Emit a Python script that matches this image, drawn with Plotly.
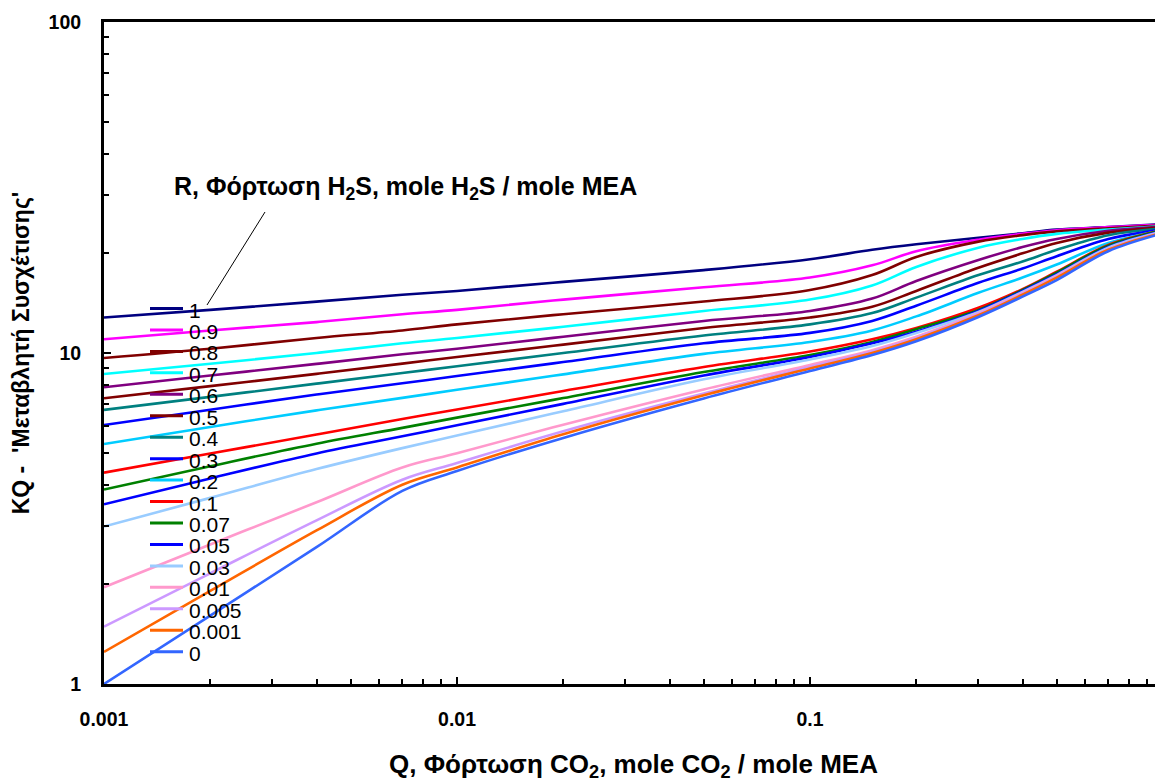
import plotly.graph_objects as go

# ---------------- data ----------------
q_co2 = [0.001, 0.002, 0.004, 0.007, 0.01, 0.02, 0.05, 0.1, 0.15, 0.2, 0.3, 0.4, 0.5, 0.7, 1.0]

r_labels = ["1", "0.9", "0.8", "0.7", "0.6", "0.5", "0.4", "0.3", "0.2",
            "0.1", "0.07", "0.05", "0.03", "0.01", "0.005", "0.001", "0"]

k_r1    = [12.8, 13.5, 14.3, 15.0, 15.4, 16.4, 17.8, 19.2, 20.5, 21.3, 22.3, 23.0, 23.6, 24.0, 24.5]
k_r09   = [11.0, 11.7, 12.4, 13.1, 13.5, 14.5, 15.8, 16.9, 18.4, 20.3, 22.0, 22.9, 23.5, 24.0, 24.4]
k_r08   = [9.66, 10.3, 11.1, 11.7, 12.2, 13.1, 14.3, 15.5, 17.2, 19.5, 21.7, 22.7, 23.3, 23.8, 24.3]
k_r07   = [8.64, 9.28, 10.0, 10.7, 11.1, 12.0, 13.4, 14.5, 16.0, 18.2, 20.8, 22.1, 22.9, 23.6, 24.2]
k_r06   = [7.88, 8.55, 9.27, 9.91, 10.3, 11.2, 12.5, 13.4, 14.6, 16.5, 19.1, 20.9, 22.1, 23.4, 24.1]
k_r05   = [7.30, 7.94, 8.65, 9.29, 9.72, 10.6, 11.9, 12.8, 13.8, 15.4, 18.1, 20.0, 21.5, 23.1, 24.0]
k_r04   = [6.73, 7.37, 8.08, 8.70, 9.12, 10.0, 11.3, 12.2, 13.2, 14.7, 17.2, 18.9, 20.5, 22.7, 23.8]
k_r03   = [6.06, 6.74, 7.49, 8.10, 8.52, 9.39, 10.7, 11.5, 12.5, 13.9, 16.3, 18.0, 19.6, 22.1, 23.6]
k_r02   = [5.31, 5.98, 6.71, 7.32, 7.74, 8.62, 9.94, 10.8, 11.7, 12.9, 15.2, 16.9, 18.5, 21.5, 23.5]
k_r01   = [4.35, 4.97, 5.67, 6.32, 6.75, 7.68, 9.07, 10.1, 11.0, 11.9, 13.7, 15.6, 17.6, 21.2, 23.5]
k_r007  = [3.87, 4.55, 5.32, 5.94, 6.38, 7.31, 8.76, 9.86, 10.8, 11.8, 13.5, 15.5, 17.5, 21.1, 23.5]
k_r005  = [3.49, 4.18, 4.97, 5.60, 6.05, 7.02, 8.55, 9.73, 10.7, 11.6, 13.4, 15.4, 17.3, 20.9, 23.4]
k_r003  = [2.99, 3.65, 4.46, 5.16, 5.63, 6.67, 8.33, 9.56, 10.5, 11.5, 13.3, 15.3, 17.2, 20.8, 23.3]
k_r001  = [1.96, 2.64, 3.54, 4.51, 4.98, 6.07, 7.76, 9.20, 10.2, 11.2, 13.2, 15.2, 17.1, 20.6, 23.2]
k_r0005 = [1.49, 2.16, 3.12, 4.14, 4.65, 5.80, 7.54, 9.07, 10.1, 11.1, 13.1, 15.1, 17.0, 20.6, 23.2]
k_r0001 = [1.25, 1.91, 2.91, 4.00, 4.51, 5.68, 7.45, 8.98, 10.0, 11.0, 13.0, 15.0, 16.9, 20.5, 23.1]
k_r0    = [1.00, 1.61, 2.59, 3.83, 4.40, 5.54, 7.29, 8.82, 9.86, 10.85, 12.85, 14.8, 16.6, 20.3, 23.0]

series = [k_r1, k_r09, k_r08, k_r07, k_r06, k_r05, k_r04, k_r03, k_r02,
          k_r01, k_r007, k_r005, k_r003, k_r001, k_r0005, k_r0001, k_r0]

colors = ["#000080", "#FF00FF", "#800000", "#00FFFF", "#800080", "#800000",
          "#008080", "#0000FF", "#00CCFF", "#FF0000", "#008000", "#0000FF",
          "#99CCFF", "#FF99CC", "#CC99FF", "#FF6600", "#3366FF"]

x_tickvals = [0.001, 0.01, 0.1, 1]
x_ticktext = ["0.001", "0.01", "0.1", "1"]
y_tickvals = [1, 10, 100]
y_ticktext = ["1", "10", "100"]

# ---------------- figure ----------------
FONT = "Arial, 'Liberation Sans', sans-serif"
W, H = 1155, 774          # page body adds an 8 px offset
L, R, T, B = 96, 0, 14, 98
PW, PH = W - L - R, H - T - B
OFF = 8                   # screen offset of the figure in the page

fig = go.Figure()
for name, ys, col in zip(r_labels, series, colors):
    fig.add_trace(go.Scatter(
        x=q_co2, y=ys, mode="lines", name=name,
        line=dict(color=col, width=2.6, shape="spline", smoothing=1.0),
        showlegend=False))

x_minor = [m * d for d in (0.001, 0.01, 0.1) for m in range(2, 10)]
y_minor = [m * d for d in (1, 10) for m in range(2, 10)]

fig.update_xaxes(
    type="log", range=[-3, 0], tickvals=x_tickvals, ticktext=x_ticktext,
    ticks="inside", ticklen=7, tickwidth=2, tickcolor="black",
    showline=True, linecolor="black", linewidth=3, mirror=True,
    showgrid=False, zeroline=False, automargin=False,
    ticklabelstandoff=16, ticklabeloverflow="allow",
    tickfont=dict(family=FONT, size=19.5, color="black", weight="bold"),
    minor=dict(tickvals=x_minor, ticks="inside", ticklen=5, tickwidth=2,
               tickcolor="black", showgrid=False),
    title=dict(text="Q, Φόρτωση CO<sub>2</sub>, mole CO<sub>2</sub> / mole MEA",
               font=dict(family=FONT, size=26, color="black", weight="bold"),
               standoff=31),
)
fig.update_yaxes(
    type="log", range=[0, 2], tickvals=y_tickvals, ticktext=y_ticktext,
    ticks="inside", ticklen=7, tickwidth=2, tickcolor="black",
    showline=True, linecolor="black", linewidth=3, mirror=True,
    showgrid=False, zeroline=False, automargin=False,
    ticklabelstandoff=16,
    tickfont=dict(family=FONT, size=19.5, color="black", weight="bold"),
    minor=dict(tickvals=y_minor, ticks="inside", ticklen=5, tickwidth=2,
               tickcolor="black", showgrid=False),
    title=dict(text="KQ -  'Μεταβλητή Συσχέτισης'",
               font=dict(family=FONT, size=23, color="black", weight="bold"),
               standoff=22),
)

# ---------------- in-plot legend (manual, tight spacing) ----------------
def px_to_paper(px, py):
    """screen pixel (reference image coords) -> paper coords"""
    return (px - OFF - L) / PW, (T + PH - (py - OFF)) / PH

leg_top, leg_step = 308.5, 21.45
for i, (name, col) in enumerate(zip(r_labels, colors)):
    py = leg_top + i * leg_step
    x0, y0 = px_to_paper(150, py)
    x1, _ = px_to_paper(183, py)
    fig.add_shape(type="line", xref="paper", yref="paper",
                  x0=x0, x1=x1, y0=y0, y1=y0,
                  line=dict(color=col, width=3))
    tx, ty = px_to_paper(187, py + 1.5)
    fig.add_annotation(xref="paper", yref="paper", x=tx, y=ty,
                       text=name, showarrow=False, xanchor="left", yanchor="middle",
                       font=dict(family=FONT, size=21, color="black"))

# legend title callout
cx, cy = px_to_paper(405, 188)
fig.add_annotation(xref="paper", yref="paper", x=cx, y=cy,
                   text="R, Φόρτωση H<sub>2</sub>S, mole H<sub>2</sub>S / mole MEA",
                   showarrow=False, xanchor="center", yanchor="middle",
                   font=dict(family=FONT, size=25, color="black", weight="bold"))
lx0, ly0 = px_to_paper(207, 305)
lx1, ly1 = px_to_paper(265, 212)
fig.add_shape(type="line", xref="paper", yref="paper",
              x0=lx0, y0=ly0, x1=lx1, y1=ly1, line=dict(color="black", width=1))

fig.update_layout(
    width=W, height=H, margin=dict(l=L, r=R, t=T, b=B),
    paper_bgcolor="white", plot_bgcolor="white",
    font=dict(family=FONT, color="black"),
    showlegend=False,
)

fig.write_html("out.html")
